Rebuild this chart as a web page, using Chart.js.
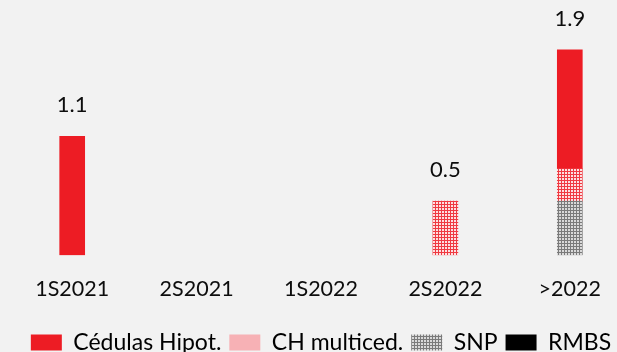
<!DOCTYPE html>
<html>
<head>
<meta charset="utf-8">
<script src="https://cdn.jsdelivr.net/npm/chart.js@4/dist/chart.umd.min.js"></script>
<style>
  html, body { margin: 0; padding: 0; background: #f2f2f2; overflow: hidden; }
  #wrap { width: 632px; height: 352px; }
</style>
</head>
<body>
<div id="wrap"><canvas id="chart" width="632" height="352"></canvas></div>
<script>
// Maturities and amounts per instrument
const categories = ['1S2021', '2S2021', '1S2022', '2S2022', '>2022'];
const cedulas = [1.1, 0, 0, 0, 1.1];
const chMulticed = [0, 0, 0, 0.5, 0.3];
const snp = [0, 0, 0, 0, 0.5];
const rmbs = [0, 0, 0, 0, 0];

const FONT = 'Lato, "Open Sans", sans-serif';

// Small dotted tiles for the patterned series
function makePattern(base, light) {
  const tile = document.createElement('canvas');
  tile.width = 3;
  tile.height = 3;
  const c = tile.getContext('2d');
  c.fillStyle = base;
  c.fillRect(0, 0, 3, 3);
  c.fillStyle = light;
  c.fillRect(1, 1, 2, 2);
  return document.getElementById('chart').getContext('2d').createPattern(tile, 'repeat');
}

const pinkPattern = makePattern('#ef3a42', '#fde0e1');
const greyPattern = makePattern('#7a7a7a', '#d9d9d9');

// Totals written above each column
const totalsPlugin = {
  id: 'totals',
  afterDatasetsDraw(chart) {
    const { ctx, scales } = chart;
    ctx.save();
    ctx.font = '22px ' + FONT;
    ctx.fillStyle = '#0d0d0d';
    ctx.textAlign = 'center';
    ctx.textBaseline = 'middle';
    categories.forEach((cat, i) => {
      const total = cedulas[i] + chMulticed[i] + snp[i] + rmbs[i];
      if (total <= 0) return;
      const x = scales.x.getPixelForValue(i);
      const y = scales.y.getPixelForValue(total) - 31;
      ctx.fillText(total.toFixed(1), x, y);
    });
    ctx.restore();
  }
};

// Datasets listed bottom-up; the legend is reversed
const datasets = [
  { label: 'RMBS', data: rmbs, backgroundColor: '#000000', legendFill: '#000000' },
  { label: 'SNP', data: snp, backgroundColor: greyPattern, legendFill: greyPattern },
  { label: 'CH multiced.', data: chMulticed, backgroundColor: pinkPattern, legendFill: '#f7b1b5' },
  { label: 'Cédulas Hipot.', data: cedulas, backgroundColor: '#ed1c24', legendFill: '#ed1c24' }
];

const chart = new Chart(document.getElementById('chart'), {
  type: 'bar',
  data: {
    labels: categories,
    datasets: datasets.map(d => ({
      label: d.label,
      // empty slots stay empty instead of drawing a hairline
      data: d.data.map(v => (v === 0 ? null : v)),
      backgroundColor: d.backgroundColor,
      borderWidth: 0,
      barThickness: 25
    }))
  },
  options: {
    responsive: false,
    devicePixelRatio: 1,
    animation: false,
    layout: { padding: { left: 10, right: 0, top: 0, bottom: -12 } },
    plugins: {
      tooltip: { enabled: false },
      legend: {
        position: 'bottom',
        reverse: true,
        labels: {
          boxWidth: 31,
          boxHeight: 16,
          padding: 8,
          color: '#0d0d0d',
          font: { family: FONT, size: 23 },
          generateLabels: (c) => datasets.map((d, i) => ({
            text: d.label,
            fillStyle: d.legendFill,
            strokeStyle: d.legendFill,
            lineWidth: 0,
            hidden: false,
            datasetIndex: i
          }))
        }
      }
    },
    scales: {
      x: {
        stacked: true,
        grid: { display: false, drawTicks: false },
        border: { display: false },
        ticks: {
          padding: 21,
          color: '#0d0d0d',
          font: { family: FONT, size: 21.5 }
        }
      },
      y: {
        stacked: true,
        display: false,
        min: 0,
        max: 2.36
      }
    }
  },
  plugins: [totalsPlugin]
});
</script>
</body>
</html>
